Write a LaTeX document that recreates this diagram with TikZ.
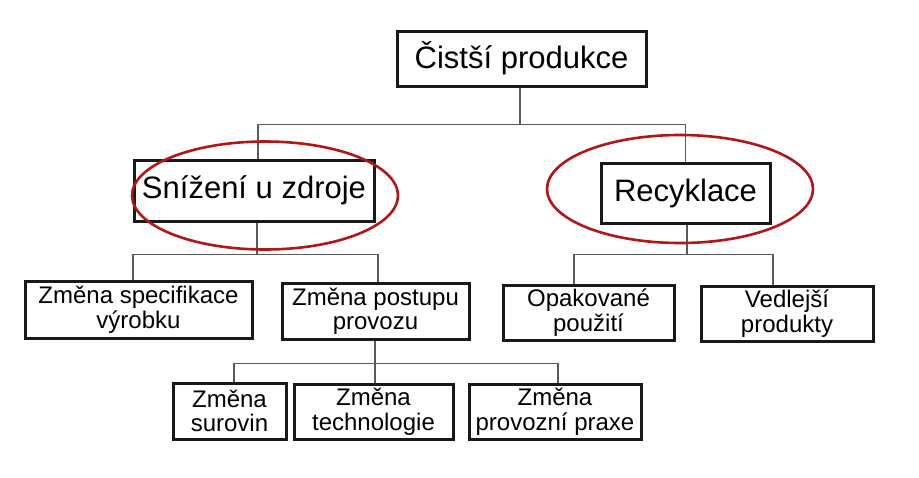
\documentclass[tikz,border=0pt]{standalone}
\usepackage{fontspec}
\setmainfont{Liberation Sans}
\definecolor{hlred}{RGB}{178,22,22}
\definecolor{conncol}{RGB}{90,90,90}
\tikzset{
  boxbase/.style={draw=black!90, line width=3pt, fill=white, align=center, inner sep=0pt, anchor=center},
  bigbox/.style={boxbase, font=\fontsize{31}{33}\selectfont},
  smallbox/.style={boxbase, font=\fontsize{24}{24.5}\selectfont},
  conn/.style={draw=conncol, line width=1.3pt},
  hl/.style={draw=hlred, line width=2.6pt}
}
\begin{document}
\begin{tikzpicture}[x=1pt, y=-1pt]
\useasboundingbox[fill=white] (0,0) rectangle (919,477);

\node[bigbox, minimum width=249pt, minimum height=55pt] (top) at (521.5,58.5) {Čistší produkce};
\node[bigbox, minimum width=240pt, minimum height=61pt] (snizeni) at (254,190.5) {Snížení u zdroje};
\node[bigbox, minimum width=169pt, minimum height=60pt] (recyk) at (685.5,193) {Recyklace};

\node[smallbox, minimum width=227pt, minimum height=57pt] (spec) at (138.5,309.5) {Změna specifikace\\výrobku};
\node[smallbox, minimum width=187pt, minimum height=56pt] (postup) at (375.5,311) {Změna postupu\\provozu};
\node[smallbox, minimum width=171pt, minimum height=55pt] (opak) at (588.5,312.5) {Opakované\\použití};
\node[smallbox, minimum width=172pt, minimum height=55pt] (vedl) at (787,313.5) {Vedlejší\\produkty};

\node[smallbox, minimum width=113pt, minimum height=56pt] (surovin) at (229.5,411) {Změna\\surovin};
\node[smallbox, minimum width=159pt, minimum height=55pt] (techn) at (373.5,411.5) {Změna\\technologie};
\node[smallbox, minimum width=172pt, minimum height=55pt] (praxe) at (555,411.5) {Změna\\provozní praxe};

% level 1 bus
\path ([xshift=-1.5pt]top.south) ++(0,37) coordinate (b1);
\draw[conn] ([xshift=-1.5pt]top.south) -- (b1);
\draw[conn] ([xshift=4pt]snizeni.north) |- (b1) -| (recyk.north);

% snizeni bus
\path ([xshift=3pt]snizeni.south) ++(0,32) coordinate (b2);
\draw[conn] ([xshift=3pt]snizeni.south) -- (b2);
\draw[conn] ([xshift=-5.5pt]spec.north) |- (b2) -| ([xshift=2.5pt]postup.north);

% recyklace bus
\path ([xshift=1.5pt]recyk.south) ++(0,30) coordinate (b3);
\draw[conn] ([xshift=1.5pt]recyk.south) -- (b3);
\draw[conn] ([xshift=-14.5pt]opak.north) |- (b3) -| ([xshift=-14pt]vedl.north);

% postup bus
\path ([xshift=-0.5pt]postup.south) ++(0,23) coordinate (b4);
\draw[conn] ([xshift=-0.5pt]postup.south) -- (b4);
\draw[conn] ([xshift=4.5pt]surovin.north) |- (b4) -| ([xshift=3pt]praxe.north);
\draw[conn] (b4) -- (b4 |- techn.north);

% highlight ellipses
\draw[hl] (265,195.5) ellipse [x radius=133, y radius=54];
\draw[hl] (680,189) ellipse [x radius=133, y radius=54];
\end{tikzpicture}
\end{document}
